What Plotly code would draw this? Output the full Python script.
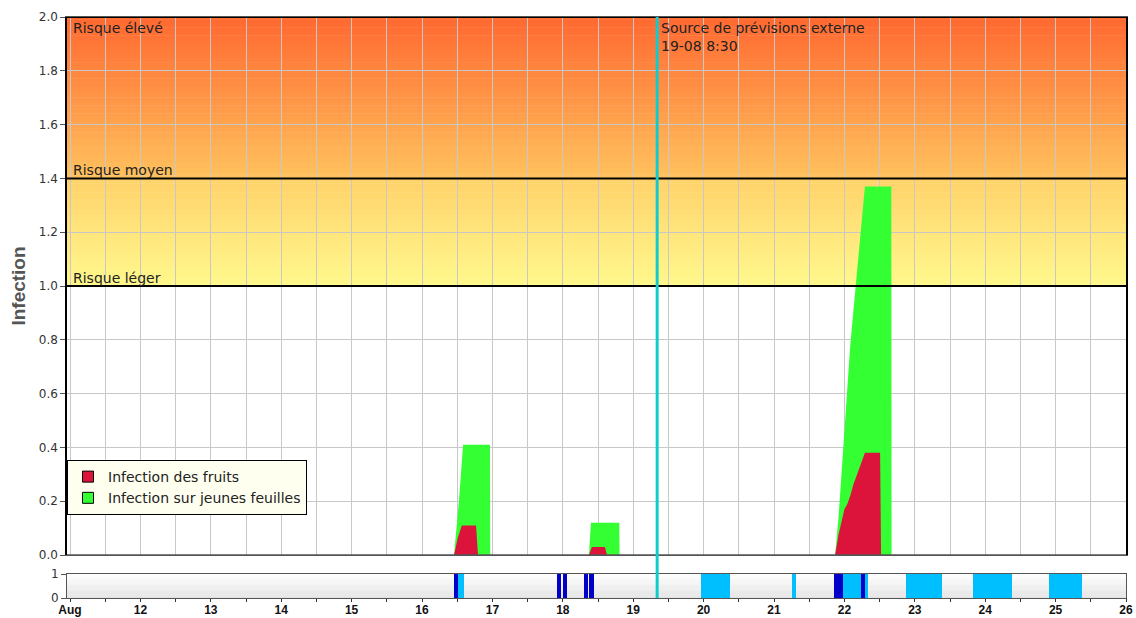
import pandas as pd
import plotly.graph_objects as go
from plotly.subplots import make_subplots

# ---------------- DATA ----------------
# Infection sur jeunes feuilles (green)
leaf_time = [
    "2024-08-16 10:55", "2024-08-16 12:35", "2024-08-16 14:00", "2024-08-16 23:10", "2024-08-16 23:15",
    "2024-08-18 08:55", "2024-08-18 09:35", "2024-08-18 19:15", "2024-08-18 19:20",
    "2024-08-21 20:50", "2024-08-21 22:00", "2024-08-21 23:00", "2024-08-22 00:00", "2024-08-22 01:00",
    "2024-08-22 02:00", "2024-08-22 03:00", "2024-08-22 04:00", "2024-08-22 05:00", "2024-08-22 06:00",
    "2024-08-22 07:00", "2024-08-22 16:00", "2024-08-22 16:05",
]
leaf_value = [
    0.0, 0.20, 0.41, 0.41, 0.0,
    0.0, 0.12, 0.12, 0.0,
    0.0, 0.14, 0.30, 0.47, 0.64,
    0.78, 0.90, 1.02, 1.15, 1.27,
    1.37, 1.37, 0.0,
]

# Infection des fruits (red)
fruit_time = [
    "2024-08-16 10:55", "2024-08-16 12:15", "2024-08-16 13:35", "2024-08-16 18:25", "2024-08-16 19:05",
    "2024-08-18 08:55", "2024-08-18 09:55", "2024-08-18 14:20", "2024-08-18 15:05",
    "2024-08-21 20:50", "2024-08-21 22:00", "2024-08-21 23:00", "2024-08-22 00:00", "2024-08-22 01:00",
    "2024-08-22 02:00", "2024-08-22 03:00", "2024-08-22 04:00", "2024-08-22 05:00", "2024-08-22 06:00",
    "2024-08-22 07:00", "2024-08-22 12:10", "2024-08-22 12:30",
]
fruit_value = [
    0.0, 0.066, 0.11, 0.11, 0.0,
    0.0, 0.03, 0.03, 0.0,
    0.0, 0.075, 0.12, 0.17, 0.19,
    0.22, 0.26, 0.29, 0.32, 0.35,
    0.38, 0.38, 0.0,
]

# Bottom strip periods (dark blue / light blue)
dark_start = ["2024-08-16 11:00", "2024-08-17 22:05", "2024-08-18 00:00", "2024-08-18 07:05",
              "2024-08-18 08:55", "2024-08-21 20:35", "2024-08-22 05:40"]
dark_end = ["2024-08-16 12:15", "2024-08-17 23:25", "2024-08-18 01:30", "2024-08-18 08:25",
            "2024-08-18 10:35", "2024-08-21 23:35", "2024-08-22 07:00"]
light_start = ["2024-08-16 12:15", "2024-08-19 23:05", "2024-08-21 06:00", "2024-08-21 23:35",
               "2024-08-22 07:00", "2024-08-22 20:50", "2024-08-23 19:55", "2024-08-24 21:35"]
light_end = ["2024-08-16 14:15", "2024-08-20 09:00", "2024-08-21 07:25", "2024-08-22 05:40",
             "2024-08-22 07:55", "2024-08-23 09:20", "2024-08-24 09:10", "2024-08-25 08:55"]

day_ticks = pd.date_range("2024-08-11", "2024-08-26", freq="D")
day_labels = ["Aug"] + [str(d.day) for d in day_ticks[1:]]

forecast_time = "2024-08-19 08:10"
forecast_label = "Source de prévisions externe<br>19-08 8:30"

risk_levels = [1.0, 1.4, 2.0]
risk_labels = ["Risque léger", "Risque moyen", "Risque élevé"]

legend_names = ["Infection des fruits", "Infection sur jeunes feuilles"]
legend_colors = ["#DC143C", "#33FF33"]

x_range = ["2024-08-10 22:58", "2024-08-26 00:00"]

# ---------------- FIGURE ----------------
FONT = "DejaVu Sans"
fig = make_subplots(rows=2, cols=1, shared_xaxes=True, vertical_spacing=0.0,
                    row_heights=[0.926, 0.074])

fig.add_trace(go.Scatter(
    x=pd.to_datetime(leaf_time), y=leaf_value, mode="lines", fill="tozeroy",
    line=dict(width=0, color=legend_colors[1]), fillcolor=legend_colors[1],
    showlegend=False, hoverinfo="skip"), row=1, col=1)
fig.add_trace(go.Scatter(
    x=pd.to_datetime(fruit_time), y=fruit_value, mode="lines", fill="tozeroy",
    line=dict(width=0, color=legend_colors[0]), fillcolor=legend_colors[0],
    showlegend=False, hoverinfo="skip"), row=1, col=1)

# legend entries (square swatches)
for name, col in zip(legend_names, legend_colors):
    fig.add_trace(go.Scatter(x=[None], y=[None], mode="markers", name=name,
                             marker=dict(symbol="square", size=11, color=col,
                                         line=dict(color="black", width=1))), row=1, col=1)


def add_periods(starts, ends, color):
    s = pd.to_datetime(starts)
    e = pd.to_datetime(ends)
    mid = s + (e - s) / 2
    width = [(b - a).total_seconds() * 1000 for a, b in zip(s, e)]
    fig.add_trace(go.Bar(x=mid, y=[1] * len(s), width=width, marker=dict(color=color, line=dict(width=0)),
                         showlegend=False, hoverinfo="skip"), row=2, col=1)


add_periods(light_start, light_end, "#00BFFF")
add_periods(dark_start, dark_end, "#0000C8")

# ---- gradient backgrounds (style only) ----
def lerp(c0, c1, t):
    return "rgb(%d,%d,%d)" % tuple(round(a + (b - a) * t) for a, b in zip(c0, c1))

shapes = []
N = 60
bands = [((1.0, 1.4), (255, 248, 140), (255, 210, 106)),
         ((1.4, 2.0), (255, 194, 94), (255, 104, 48))]
for (lo, hi), cb, ct in bands:
    for i in range(N):
        y0 = lo + (hi - lo) * i / N
        y1 = lo + (hi - lo) * (i + 1) / N + 0.002
        shapes.append(dict(type="rect", xref="x domain", yref="y", x0=0, x1=1, y0=y0, y1=min(y1, hi),
                           fillcolor=lerp(cb, ct, (i + 0.5) / N), line=dict(width=0), layer="below"))
for i in range(20):
    shapes.append(dict(type="rect", xref="x2 domain", yref="y2", x0=0, x1=1, y0=i / 20, y1=(i + 1) / 20 + 0.01,
                       fillcolor=lerp((226, 226, 226), (255, 255, 255), (i + 0.5) / 20),
                       line=dict(width=0), layer="below"))
# baseline at 0 and risk threshold lines
shapes.append(dict(type="line", xref="x domain", yref="y", x0=0, x1=1, y0=0, y1=0,
                   line=dict(color="#555", width=1.5), layer="above"))
for lvl in risk_levels:
    shapes.append(dict(type="line", xref="x domain", yref="y", x0=0, x1=1, y0=lvl, y1=lvl,
                       line=dict(color="black", width=2), layer="above"))
# forecast line
shapes.append(dict(type="line", xref="x", yref="paper", x0=forecast_time, x1=forecast_time, y0=0, y1=1,
                   line=dict(color="#11CCCC", width=3), layer="above"))

annotations = []
for lvl, lab in zip(risk_levels, risk_labels):
    if lvl >= 2.0:
        annotations.append(dict(x=0.004, xref="x domain", y=lvl, yref="y", text=lab, showarrow=False,
                                xanchor="left", yanchor="top", yshift=-1,
                                font=dict(family=FONT, size=14, color="#222")))
    else:
        annotations.append(dict(x=0.004, xref="x domain", y=lvl, yref="y", text=lab, showarrow=False,
                                xanchor="left", yanchor="bottom", yshift=-2,
                                font=dict(family=FONT, size=14, color="#222")))
annotations.append(dict(x=forecast_time, xref="x", y=2.0, yref="y", text=forecast_label, showarrow=False,
                        xanchor="left", yanchor="top", xshift=2, yshift=-1, align="left",
                        font=dict(family=FONT, size=14, color="#222")))

fig.update_layout(
    width=1136, height=618,
    margin=dict(l=67, r=10, t=17, b=20, autoexpand=False),
    paper_bgcolor="white", plot_bgcolor="white",
    shapes=shapes, annotations=annotations,
    bargap=0, barmode="overlay",
    showlegend=True,
    legend=dict(x=0.0, y=0.2375, xanchor="left", yanchor="top",
                bgcolor="#FFFFF0", bordercolor="black", borderwidth=1,
                font=dict(family=FONT, size=14, color="#222"), itemwidth=30,
                tracegroupgap=0),
    font=dict(family=FONT, size=12, color="#333"),
)

fig.update_xaxes(range=x_range, type="date", automargin=False)
fig.update_xaxes(row=1, col=1, showticklabels=False, tick0="2024-08-11", dtick=12 * 3600 * 1000,
                 showgrid=True, gridcolor="#C8C8C8", gridwidth=1,
                 showline=True, linecolor="#555", linewidth=1, mirror=True, ticks="")
fig.update_xaxes(row=2, col=1, tickvals=day_ticks, ticktext=[f"<b>{t}</b>" for t in day_labels],
                 tickfont=dict(family="Liberation Sans", size=12, color="#111"),
                 ticks="outside", ticklen=3, tickcolor="#333", ticklabeloverflow="allow",
                 ticklabelstandoff=-2,
                 minor=dict(dtick=12 * 3600 * 1000, tick0="2024-08-11", ticks="outside", ticklen=3,
                            tickcolor="#333", showgrid=False),
                 showgrid=False, showline=True, linecolor="#555", linewidth=1, mirror=True)
fig.update_yaxes(automargin=False)
fig.update_yaxes(row=1, col=1, range=[0, 2], dtick=0.2, tickformat=".1f",
                 ticks="outside", ticklen=5, tickcolor="#555",
                 showgrid=True, gridcolor="#C8C8C8", gridwidth=1, zeroline=False,
                 showline=True, linecolor="black", linewidth=1.5, mirror=True,
                 tickfont=dict(family=FONT, size=12, color="#333"),
                 title=dict(text="<b>Infection</b>",
                            font=dict(family="Liberation Sans Narrow, Liberation Sans", size=19, color="#555"),
                            standoff=8))
fig.update_yaxes(row=2, col=1, range=[0, 1], tickvals=[0, 1], ticks="outside", ticklen=5, tickcolor="#555",
                 showgrid=False, zeroline=False, showline=True, linecolor="#555", linewidth=1, mirror=True,
                 tickfont=dict(family=FONT, size=12, color="#333"))

# strip domain / main domain
fig.update_layout(yaxis=dict(domain=[0.074, 1.0]), yaxis2=dict(domain=[0.0, 0.0413]))

# remove the default page margin so the 1136x618 figure fills the window exactly
fig.write_html("out.html", config={"displayModeBar": False},
               post_script="document.body.style.margin='0';document.body.style.overflow='hidden';")
